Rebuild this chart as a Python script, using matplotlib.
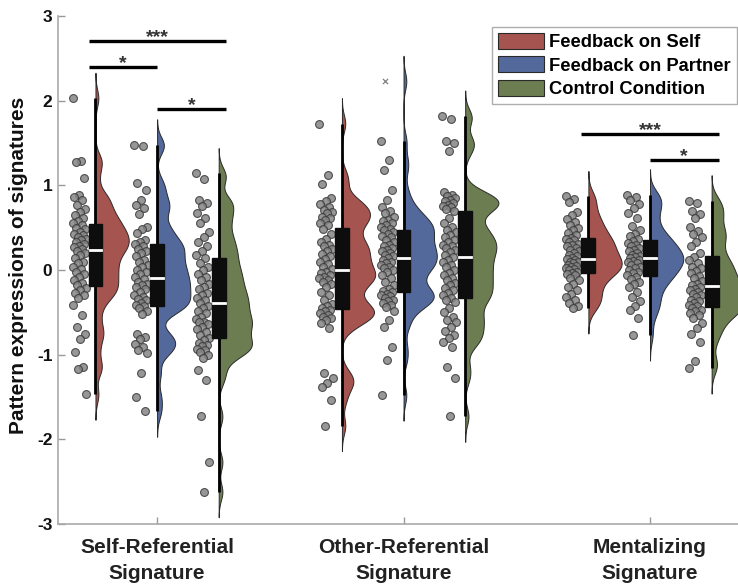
import numpy as np
import matplotlib.pyplot as plt
from matplotlib.patches import Patch, Rectangle

plt.rcParams['font.family'] = ['Liberation Sans', 'DejaVu Sans']
plt.rcParams['font.weight'] = 'bold'
plt.rcParams['axes.unicode_minus'] = False

# categories and conditions
signatures = ['Self-Referential\nSignature', 'Other-Referential\nSignature', 'Mentalizing\nSignature']
conditions = ['Feedback on Self', 'Feedback on Partner', 'Control Condition']
colors = ['#A65450', '#53699B', '#6B7D51']

# pattern expression values, one list per signature x condition
self_self = [2.03, 1.29, 1.27, 1.09, 0.89, 0.86, 0.83, 0.77, 0.72, 0.68, 0.65, 0.61, 0.58, 0.56,
             0.53, 0.50, 0.48, 0.45, 0.43, 0.41, 0.39, 0.37, 0.35, 0.33, 0.31, 0.28, 0.27, 0.25,
             0.23, 0.20, 0.18, 0.14, 0.10, 0.08, 0.04, 0.01, -0.02, -0.05, -0.08, -0.12, -0.15,
             -0.18, -0.21, -0.24, -0.27, -0.30, -0.33, -0.41, -0.53, -0.67, -0.75, -0.81, -0.97,
             -1.15, -1.17, -1.47]
self_partner = [1.48, 1.46, 1.03, 0.95, 0.83, 0.77, 0.73, 0.66, 0.51, 0.49, 0.44, 0.36, 0.33, 0.31,
                0.28, 0.25, 0.22, 0.20, 0.16, 0.12, 0.09, 0.06, 0.03, 0.00, -0.02, -0.05, -0.08,
                -0.11, -0.14, -0.16, -0.18, -0.20, -0.23, -0.26, -0.29, -0.32, -0.34, -0.36, -0.39,
                -0.41, -0.43, -0.45, -0.49, -0.52, -0.75, -0.79, -0.82, -0.87, -0.91, -0.95, -0.98,
                -1.22, -1.50, -1.67]
self_control = [1.14, 1.07, 0.83, 0.79, 0.76, 0.67, 0.61, 0.55, 0.45, 0.39, 0.33, 0.28, 0.22, 0.18,
                0.14, 0.08, 0.03, 0.00, -0.05, -0.08, -0.12, -0.16, -0.20, -0.23, -0.27, -0.30,
                -0.33, -0.36, -0.39, -0.42, -0.45, -0.48, -0.51, -0.55, -0.58, -0.61, -0.62, -0.64,
                -0.67, -0.70, -0.73, -0.77, -0.80, -0.83, -0.86, -0.89, -0.90, -0.93, -0.95, -0.97,
                -1.00, -1.04, -1.18, -1.30, -1.73, -2.27, -2.62]
other_self = [1.73, 1.12, 1.02, 0.85, 0.81, 0.78, 0.75, 0.71, 0.69, 0.67, 0.63, 0.61, 0.59, 0.56,
              0.53, 0.48, 0.42, 0.37, 0.33, 0.30, 0.28, 0.25, 0.22, 0.19, 0.16, 0.13, 0.10, 0.07,
              0.04, 0.01, -0.02, -0.04, -0.06, -0.08, -0.10, -0.12, -0.14, -0.16, -0.20, -0.26,
              -0.30, -0.35, -0.40, -0.43, -0.45, -0.47, -0.49, -0.51, -0.53, -0.55, -0.57, -0.59,
              -0.63, -0.69, -1.22, -1.28, -1.34, -1.38, -1.54, -1.84]
other_partner = [1.52, 1.30, 1.18, 0.95, 0.83, 0.75, 0.70, 0.67, 0.63, 0.59, 0.58, 0.55, 0.53, 0.51,
                 0.49, 0.47, 0.45, 0.43, 0.40, 0.39, 0.35, 0.33, 0.30, 0.28, 0.26, 0.24, 0.22, 0.20,
                 0.18, 0.16, 0.14, 0.12, 0.10, 0.08, 0.06, 0.04, 0.02, 0.00, -0.02, -0.06, -0.10,
                 -0.14, -0.18, -0.22, -0.25, -0.26, -0.28, -0.30, -0.31, -0.33, -0.35, -0.37, -0.39,
                 -0.41, -0.44, -0.48, -0.59, -0.67, -0.91, -1.06, -1.48]
other_partner_outlier = [2.23]
other_control = [1.82, 1.78, 1.52, 1.50, 1.40, 0.92, 0.89, 0.87, 0.85, 0.83, 0.81, 0.79, 0.77, 0.76,
                 0.74, 0.72, 0.70, 0.62, 0.55, 0.51, 0.47, 0.45, 0.41, 0.39, 0.35, 0.33, 0.30, 0.28,
                 0.26, 0.24, 0.21, 0.18, 0.15, 0.12, 0.09, 0.06, 0.03, 0.00, -0.03, -0.06, -0.09,
                 -0.12, -0.15, -0.18, -0.21, -0.24, -0.27, -0.30, -0.33, -0.35, -0.38, -0.45, -0.50,
                 -0.55, -0.59, -0.62, -0.67, -0.72, -0.77, -0.80, -0.85, -0.91, -1.14, -1.28, -1.73]
ment_self = [0.87, 0.84, 0.80, 0.69, 0.65, 0.60, 0.57, 0.53, 0.50, 0.47, 0.44, 0.41, 0.38, 0.37,
             0.35, 0.33, 0.31, 0.30, 0.28, 0.26, 0.24, 0.22, 0.20, 0.18, 0.16, 0.14, 0.13, 0.12,
             0.10, 0.09, 0.08, 0.06, 0.05, 0.04, 0.02, 0.01, 0.00, -0.02, -0.03, -0.05, -0.06,
             -0.09, -0.12, -0.16, -0.20, -0.24, -0.28, -0.32, -0.35, -0.39, -0.43, -0.45]
ment_partner = [0.89, 0.86, 0.83, 0.78, 0.73, 0.67, 0.61, 0.52, 0.47, 0.43, 0.40, 0.37, 0.34, 0.32,
                0.30, 0.28, 0.26, 0.24, 0.22, 0.20, 0.18, 0.16, 0.15, 0.14, 0.12, 0.11, 0.10, 0.08,
                0.06, 0.04, 0.02, 0.00, -0.02, -0.04, -0.06, -0.08, -0.11, -0.14, -0.17, -0.20,
                -0.26, -0.32, -0.37, -0.43, -0.47, -0.57, -0.77]
ment_control = [0.82, 0.79, 0.70, 0.66, 0.62, 0.51, 0.46, 0.43, 0.39, 0.33, 0.28, 0.20, 0.15, 0.12,
                0.08, 0.04, 0.02, -0.01, -0.04, -0.07, -0.10, -0.13, -0.16, -0.18, -0.20, -0.22,
                -0.24, -0.26, -0.28, -0.30, -0.32, -0.35, -0.37, -0.39, -0.41, -0.43, -0.45, -0.47,
                -0.49, -0.51, -0.53, -0.57, -0.63, -0.69, -0.75, -0.85, -1.08, -1.16]

data = [[self_self, self_partner, self_control],
        [other_self, other_partner, other_control],
        [ment_self, ment_partner, ment_control]]
outliers = {(1, 1): other_partner_outlier}

# significance bars: (signature, condition a, condition b, height, label)
sig_bars = [(0, 0, 2, 2.71, '***'), (0, 0, 1, 2.40, '*'), (0, 1, 2, 1.90, '*'),
            (2, 0, 2, 1.61, '***'), (2, 1, 2, 1.30, '*')]

offset = 0.25
violin_w = 0.135
box_half = 0.028
bw = 0.1

fig = plt.figure(figsize=(7.38, 5.88), dpi=100)
ax = fig.add_axes([58 / 738, 1 - 524 / 588, 1 - 58 / 738, (524 - 16) / 588])


def pos(g, c):
    return g + 1 + (c - 1) * offset


for g in range(3):
    for c in range(3):
        vals = np.array(data[g][c])
        extra = np.array(outliers.get((g, c), []))
        allv = np.concatenate([vals, extra])
        x0 = pos(g, c)
        # half violin (gaussian kde, range padded by 3 bandwidths)
        yy = np.linspace(allv.min() - 3 * bw, allv.max() + 3 * bw, 300)
        dens = np.exp(-0.5 * ((yy[:, None] - allv[None, :]) / bw) ** 2).sum(axis=1)
        dens = dens / dens.max() * violin_w
        ax.fill_betweenx(yy, x0, x0 + dens, facecolor=colors[c], edgecolor='#2a2a2a',
                         linewidth=0.7, zorder=1)
        # rain drops
        k = np.arange(len(vals))
        jit = ((k * 0.618034) % 1 - 0.5) * 0.055
        ax.scatter(x0 - 0.065 + jit, vals, s=32, facecolor='#858585', edgecolor='#3a3a3a',
                   linewidth=0.8, alpha=0.85, zorder=2)
        if len(extra):
            ax.scatter(np.full(len(extra), x0 - 0.075), extra, marker='x', s=14,
                       color='#808080', linewidth=0.9, zorder=2)
        # box
        q1, med, q3 = np.percentile(vals, [25, 50, 75])
        ax.plot([x0, x0], [vals.min(), vals.max()], color='black', lw=2.0,
                solid_capstyle='butt', zorder=3)
        ax.add_patch(Rectangle((x0 - box_half, q1), 2 * box_half, q3 - q1,
                               facecolor='#0d0d0d', edgecolor='#0d0d0d', zorder=4))
        ax.plot([x0 - box_half + 0.004, x0 + box_half - 0.004], [med, med], color='white',
                lw=2, zorder=5)

for g, a, b, h, lab in sig_bars:
    xa = pos(g, a) - (box_half if a == 0 else 0)
    xb = pos(g, b) + (box_half if b == 2 else 0)
    ax.plot([xa, xb], [h, h], color='black', lw=2.4, solid_capstyle='butt', zorder=6)
    ax.text((xa + xb) / 2, h - 0.06, lab, ha='center', va='bottom', fontsize=14,
            color='#333333', zorder=6)

ax.set_xlim(0.598, 3.357)
ax.set_ylim(-3, 3)
ax.set_yticks(range(-3, 4))
ax.set_xticks([1, 2, 3])
ax.set_xticklabels(signatures, fontsize=15, fontweight='bold', linespacing=1.5)
ax.tick_params(axis='y', direction='in', length=5, width=1, colors='#999999',
               labelcolor='#111111', labelsize=12.5, pad=4)
ax.tick_params(axis='x', direction='in', length=5, width=1, colors='#999999',
               labelcolor='#222222', pad=10)
for s in ['top', 'right']:
    ax.spines[s].set_visible(False)
for s in ['left', 'bottom']:
    ax.spines[s].set_color('#aaaaaa')
    ax.spines[s].set_linewidth(1.2)

fig.text(19 / 738, 1 - 265 / 588, 'Pattern expressions of signatures', rotation=90,
         ha='center', va='center', fontsize=15, fontweight='bold', color='#111111')

handles = [Patch(facecolor=colors[i], edgecolor='#2a2a2a', linewidth=0.8, label=conditions[i])
           for i in range(3)]
leg = ax.legend(handles=handles, loc='upper right', bbox_to_anchor=(737 / 738, 1 - 27 / 588),
                bbox_transform=fig.transFigure, fontsize=13.2, frameon=True, fancybox=False,
                handlelength=2.5, handleheight=0.95, handletextpad=0.3, labelspacing=0.28,
                borderpad=0.33, borderaxespad=0)
leg.get_frame().set_edgecolor('#999999')
leg.get_frame().set_linewidth(1)
for t in leg.get_texts():
    t.set_fontweight('bold')

fig.savefig('out.png', dpi=100)
